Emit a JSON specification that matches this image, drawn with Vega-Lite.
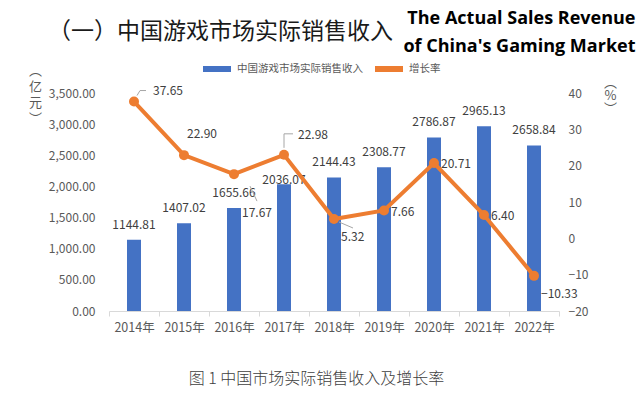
{
  "$schema": "https://vega.github.io/schema/vega-lite/v6.json",
  "width": 450,
  "height": 218,
  "autosize": "none",
  "padding": {"left": 109, "top": 93, "right": 84, "bottom": 101},
  "background": "white",
  "config": {
    "font": "Noto Sans CJK SC",
    "view": {"stroke": null},
    "axis": {"labelFont": "Noto Sans CJK SC", "labelColor": "#595959", "labelFontSize": 12, "grid": false, "labelOverlap": false}
  },
  "title": {
    "text": "（一）中国游戏市场实际销售收入",
    "anchor": "start",
    "frame": "group",
    "font": "Noto Sans CJK SC",
    "fontSize": 23,
    "fontWeight": "normal",
    "color": "#1a1a1a",
    "dx": -61,
    "dy": 39
  },
  "data": {
    "values": [
      {"year": "2014年", "revenue": 1144.81, "growth": 37.65},
      {"year": "2015年", "revenue": 1407.02, "growth": 22.90},
      {"year": "2016年", "revenue": 1655.66, "growth": 17.67},
      {"year": "2017年", "revenue": 2036.07, "growth": 22.98},
      {"year": "2018年", "revenue": 2144.43, "growth": 5.32},
      {"year": "2019年", "revenue": 2308.77, "growth": 7.66},
      {"year": "2020年", "revenue": 2786.87, "growth": 20.71},
      {"year": "2021年", "revenue": 2965.13, "growth": 6.40},
      {"year": "2022年", "revenue": 2658.84, "growth": -10.33}
    ]
  },
  "layer": [
    {
      "layer": [
        {
          "mark": {"type": "bar", "size": 14},
          "encoding": {
            "x": {
              "field": "year", "type": "ordinal", "sort": null,
              "scale": {"paddingInner": 0, "paddingOuter": 0},
              "axis": {
                "orient": "bottom",
                "labelAngle": 0,
                "labelPadding": 5,
                "labelFontSize": 12.5,
                "domainColor": "#d9d9d9",
                "tickColor": "#d9d9d9",
                "tickBand": "extent",
                "tickSize": 5,
                "title": "图 1 中国市场实际销售收入及增长率",
                "titleFont": "Noto Sans CJK SC",
                "titleFontSize": 16,
                "titleFontWeight": 300,
                "titleColor": "#404040",
                "titleX": 207,
                "titleY": 67,
                "titleAlign": "center",
                "titleBaseline": "middle"
              }
            },
            "y": {
              "field": "revenue", "type": "quantitative",
              "scale": {"domain": [0, 3500], "nice": false},
              "axis": {
                "orient": "left",
                "values": [0, 500, 1000, 1500, 2000, 2500, 3000, 3500],
                "tickCount": 8,
                "format": ",.2f",
                "domain": false,
                "ticks": false,
                "labelPadding": 14,
                "title": ["︵", "亿", "元", "︶"],
                "titleAngle": 0,
                "titleX": -74,
                "titleY": -29,
                "titleAlign": "center",
                "titleBaseline": "top",
                "titleLineHeight": 16,
                "titleFontSize": 13,
                "titleFontWeight": "normal",
                "titleColor": "#595959"
              }
            },
            "color": {
              "datum": "中国游戏市场实际销售收入",
              "type": "nominal",
              "scale": {"domain": ["中国游戏市场实际销售收入", "增长率"], "range": ["#4472C4", "#ED7D31"]},
              "legend": {
                "orient": "none",
                "legendX": 91,
                "legendY": -41,
                "direction": "horizontal",
                "title": null,
                "symbolType": "stroke",
                "symbolStrokeWidth": 6,
                "symbolSize": 784,
                "labelFontSize": 10.5,
                "labelColor": "#595959",
                "columnPadding": 0,
                "labelOffset": 3,
                "encode": {"symbols": {"update": {"stroke": {"scale": "color", "field": "value"}, "strokeWidth": {"value": 6}}}}
              }
            }
          }
        },
        {
          "transform": [{"filter": "datum.year != '2017年'"}],
          "mark": {"type": "text", "dy": -15, "baseline": "middle", "align": "center", "fontSize": 12, "color": "#404040"},
          "encoding": {
            "x": {"field": "year", "type": "ordinal", "sort": null},
            "y": {"field": "revenue", "type": "quantitative"},
            "text": {"field": "revenue", "type": "quantitative", "format": ".2f"}
          }
        },
        {
          "transform": [{"filter": "datum.year == '2017年'"}],
          "mark": {"type": "text", "dy": -4, "baseline": "middle", "align": "center", "fontSize": 12, "color": "#404040"},
          "encoding": {
            "x": {"field": "year", "type": "ordinal", "sort": null},
            "y": {"field": "revenue", "type": "quantitative"},
            "text": {"field": "revenue", "type": "quantitative", "format": ".2f"}
          }
        }
      ]
    },
    {
      "layer": [
        {
          "mark": {"type": "line", "strokeWidth": 4},
          "encoding": {
            "x": {
              "field": "year", "type": "ordinal", "sort": null,
              "axis": {
                "orient": "top",
                "labels": false,
                "ticks": false,
                "domain": false,
                "title": ["The Actual Sales Revenue", "of China's Gaming Market"],
                "titleFont": "Open Sans",
                "titleFontSize": 18,
                "titleFontWeight": "bold",
                "titleColor": "#000000",
                "titleX": 526,
                "titleY": -70,
                "titleAlign": "right",
                "titleBaseline": "alphabetic",
                "titleLineHeight": 28
              }
            },
            "y": {
              "field": "growth", "type": "quantitative",
              "scale": {"domain": [-20, 40], "nice": false},
              "axis": {
                "orient": "right",
                "values": [-20, -10, 0, 10, 20, 30, 40],
                "tickCount": 7,
                "format": "d",
                "domain": false,
                "ticks": false,
                "labelPadding": 9,
                "title": ["︵", "%", "︶"],
                "titleAngle": 0,
                "titleX": 51,
                "titleY": -17,
                "titleAlign": "center",
                "titleBaseline": "top",
                "titleLineHeight": 13,
                "titleFontSize": 13,
                "titleFontWeight": "normal",
                "titleColor": "#595959"
              }
            },
            "color": {"datum": "增长率", "type": "nominal"}
          }
        },
        {
          "transform": [{"filter": "datum.year == '2014年'"}],
          "mark": {"type": "rule", "color": "#a6a6a6", "strokeWidth": 1, "xOffset": 3, "yOffset": -6, "x2Offset": 6, "y2Offset": -11},
          "encoding": {
            "x": {"field": "year", "type": "ordinal", "sort": null},
            "y": {"field": "growth", "type": "quantitative"},
            "x2": {"field": "year"},
            "y2": {"field": "growth"}
          }
        },
        {
          "transform": [{"filter": "datum.year == '2014年'"}],
          "mark": {"type": "rule", "color": "#a6a6a6", "strokeWidth": 1, "xOffset": 6, "yOffset": -11, "x2Offset": 12, "y2Offset": -11},
          "encoding": {
            "x": {"field": "year", "type": "ordinal", "sort": null},
            "y": {"field": "growth", "type": "quantitative"},
            "x2": {"field": "year"},
            "y2": {"field": "growth"}
          }
        },
        {
          "transform": [{"filter": "datum.year == '2017年'"}],
          "mark": {"type": "rule", "color": "#a6a6a6", "strokeWidth": 1, "xOffset": 0, "yOffset": -7, "x2Offset": 0, "y2Offset": -21},
          "encoding": {
            "x": {"field": "year", "type": "ordinal", "sort": null},
            "y": {"field": "growth", "type": "quantitative"},
            "x2": {"field": "year"},
            "y2": {"field": "growth"}
          }
        },
        {
          "transform": [{"filter": "datum.year == '2017年'"}],
          "mark": {"type": "rule", "color": "#a6a6a6", "strokeWidth": 1, "xOffset": 0, "yOffset": -21, "x2Offset": 9, "y2Offset": -21},
          "encoding": {
            "x": {"field": "year", "type": "ordinal", "sort": null},
            "y": {"field": "growth", "type": "quantitative"},
            "x2": {"field": "year"},
            "y2": {"field": "growth"}
          }
        },
        {
          "transform": [{"filter": "datum.year == '2016年'"}],
          "mark": {"type": "rule", "color": "#a6a6a6", "strokeWidth": 1, "xOffset": 16, "yOffset": 12, "x2Offset": 23, "y2Offset": 27},
          "encoding": {
            "x": {"field": "year", "type": "ordinal", "sort": null},
            "y": {"field": "growth", "type": "quantitative"},
            "x2": {"field": "year"},
            "y2": {"field": "growth"}
          }
        },
        {
          "transform": [{"filter": "datum.year == '2018年'"}],
          "mark": {"type": "rule", "color": "#a6a6a6", "strokeWidth": 1, "xOffset": 5, "yOffset": 3, "x2Offset": 19, "y2Offset": 9},
          "encoding": {
            "x": {"field": "year", "type": "ordinal", "sort": null},
            "y": {"field": "growth", "type": "quantitative"},
            "x2": {"field": "year"},
            "y2": {"field": "growth"}
          }
        },
        {
          "mark": {"type": "circle", "size": 100, "color": "#ED7D31", "opacity": 1},
          "encoding": {
            "x": {"field": "year", "type": "ordinal", "sort": null},
            "y": {"field": "growth", "type": "quantitative"}
          }
        },
        {
          "transform": [{"filter": "indexof(['2019年','2020年','2021年'], datum.year) >= 0"}],
          "mark": {"type": "text", "align": "left", "baseline": "middle", "dx": 7, "dy": 1, "fontSize": 12, "color": "#404040"},
          "encoding": {
            "x": {"field": "year", "type": "ordinal", "sort": null},
            "y": {"field": "growth", "type": "quantitative"},
            "text": {"field": "growth", "type": "quantitative", "format": ".2f"}
          }
        },
        {
          "transform": [{"filter": "indexof(['2018年','2022年'], datum.year) >= 0"}],
          "mark": {"type": "text", "align": "left", "baseline": "middle", "dx": 7, "dy": 18, "fontSize": 12, "color": "#404040"},
          "encoding": {
            "x": {"field": "year", "type": "ordinal", "sort": null},
            "y": {"field": "growth", "type": "quantitative"},
            "text": {"field": "growth", "type": "quantitative", "format": ".2f"}
          }
        },
        {
          "transform": [{"filter": "datum.year == '2016年'"}],
          "mark": {"type": "text", "align": "left", "baseline": "middle", "dx": 8, "dy": 39, "fontSize": 12, "color": "#404040"},
          "encoding": {
            "x": {"field": "year", "type": "ordinal", "sort": null},
            "y": {"field": "growth", "type": "quantitative"},
            "text": {"field": "growth", "type": "quantitative", "format": ".2f"}
          }
        },
        {
          "transform": [{"filter": "datum.year == '2015年'"}],
          "mark": {"type": "text", "align": "left", "baseline": "middle", "dx": 3, "dy": -21, "fontSize": 12, "color": "#404040"},
          "encoding": {
            "x": {"field": "year", "type": "ordinal", "sort": null},
            "y": {"field": "growth", "type": "quantitative"},
            "text": {"field": "growth", "type": "quantitative", "format": ".2f"}
          }
        },
        {
          "transform": [{"filter": "datum.year == '2017年'"}],
          "mark": {"type": "text", "align": "left", "baseline": "middle", "dx": 14, "dy": -20, "fontSize": 12, "color": "#404040"},
          "encoding": {
            "x": {"field": "year", "type": "ordinal", "sort": null},
            "y": {"field": "growth", "type": "quantitative"},
            "text": {"field": "growth", "type": "quantitative", "format": ".2f"}
          }
        },
        {
          "transform": [{"filter": "datum.year == '2014年'"}],
          "mark": {"type": "text", "align": "left", "baseline": "middle", "dx": 19, "dy": -11, "fontSize": 12, "color": "#404040"},
          "encoding": {
            "x": {"field": "year", "type": "ordinal", "sort": null},
            "y": {"field": "growth", "type": "quantitative"},
            "text": {"field": "growth", "type": "quantitative", "format": ".2f"}
          }
        }
      ]
    }
  ],
  "resolve": {"scale": {"y": "independent"}, "axis": {"x": "independent"}}
}
